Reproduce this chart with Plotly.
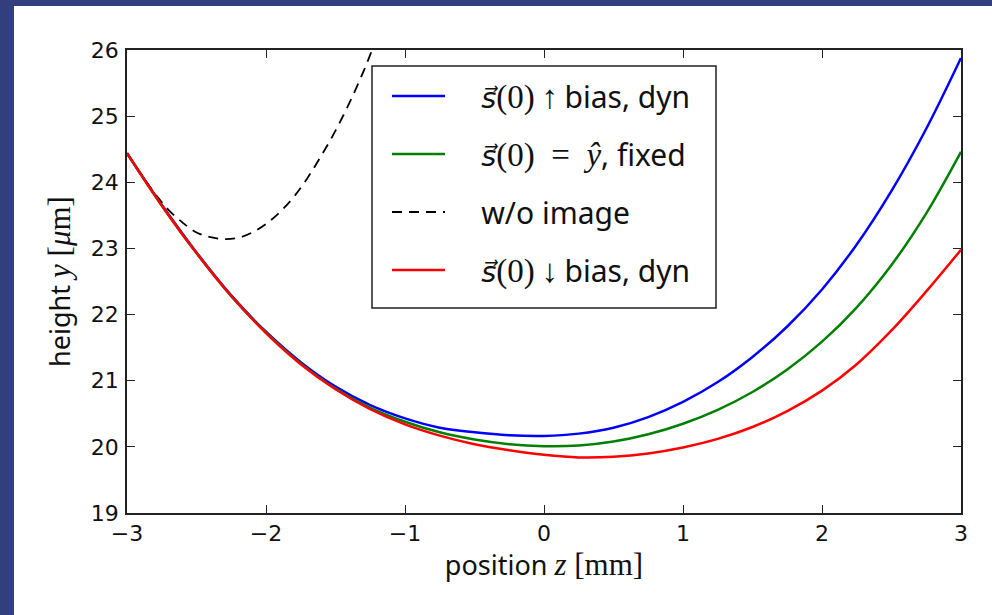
import plotly.graph_objects as go

# ---- data ----
z_vals = [-3.0, -2.75, -2.5, -2.25, -2.0, -1.75, -1.5, -1.25, -1.0, -0.75, -0.5, -0.25,
          0.0, 0.25, 0.5, 0.75, 1.0, 1.25, 1.5, 1.75, 2.0, 2.25, 2.5, 2.75, 3.0]

y_up = [24.44, 23.66, 22.94, 22.29, 21.74, 21.28, 20.91, 20.63, 20.43, 20.29, 20.22, 20.175,
        20.165, 20.20, 20.29, 20.45, 20.68, 20.98, 21.36, 21.82, 22.38, 23.06, 23.87, 24.81, 25.88]

y_fixed = [24.44, 23.65, 22.93, 22.28, 21.73, 21.26, 20.88, 20.59, 20.38, 20.22, 20.11, 20.04,
           20.01, 20.02, 20.08, 20.19, 20.35, 20.56, 20.83, 21.17, 21.59, 22.11, 22.75, 23.53, 24.46]

y_down = [24.44, 23.65, 22.93, 22.28, 21.72, 21.25, 20.87, 20.57, 20.34, 20.17, 20.04, 19.95,
          19.88, 19.84, 19.85, 19.90, 19.99, 20.12, 20.30, 20.54, 20.85, 21.25, 21.76, 22.35, 22.98]

z_noimg = [-3.0, -2.9, -2.8, -2.7, -2.6, -2.5, -2.4, -2.3, -2.2, -2.1, -2.0, -1.9, -1.8,
           -1.7, -1.6, -1.5, -1.4, -1.3, -1.2, -1.1]
y_noimg = [24.44, 24.12, 23.83, 23.58, 23.39, 23.24, 23.17, 23.14, 23.16, 23.24, 23.37, 23.55,
           23.78, 24.07, 24.41, 24.78, 25.20, 25.67, 26.20, 26.75]

x_ticks = [-3, -2, -1, 0, 1, 2, 3]
y_ticks = [19, 20, 21, 22, 23, 24, 25, 26]

SERIF = "font-family:'Liberation Serif';font-size:33px"
AXSERIF = "font-family:'Liberation Serif';font-size:31px"
VEC = "font-family:'DejaVu Sans';font-size:29px"
PAD = "\u00a0" * 4
VS = f"<span style=\"{VEC}\"><i>s⃗</i></span>"
lbl_up = f"{PAD}{VS}<span style=\"{SERIF}\">(0)\u2009↑\u2009</span>bias, dyn"
lbl_fixed = f"{PAD}{VS}<span style=\"{SERIF}\">(0)\u00a0\u00a0=\u00a0\u00a0<i>ŷ</i></span>, fixed"
lbl_noimg = f"{PAD}w/o image"
lbl_down = f"{PAD}{VS}<span style=\"{SERIF}\">(0)\u2009↓\u2009</span>bias, dyn"

fig = go.Figure()
fig.add_trace(go.Scatter(x=z_vals, y=y_up, mode="lines", name=lbl_up, legendgroup="a",
                         line=dict(color="#0000ff", width=2.5, shape="spline")))
fig.add_trace(go.Scatter(x=z_vals, y=y_fixed, mode="lines", name=lbl_fixed, legendgroup="b",
                         line=dict(color="#008000", width=2.5, shape="spline")))
fig.add_trace(go.Scatter(x=z_noimg, y=y_noimg, mode="lines", name=lbl_noimg, legendgroup="c",
                         line=dict(color="#000000", width=1.8, dash="10px,7px", shape="spline")))
fig.add_trace(go.Scatter(x=z_vals, y=y_down, mode="lines", name=lbl_down, legendgroup="d",
                         line=dict(color="#ff0000", width=2.5, shape="spline")))

L, R, T, B = 127, 31, 50, 102
W, H = 992, 615
pw, ph = W - L - R, H - T - B

def px2paper_x(px):
    return (px - L) / pw

def px2paper_y(py):
    return 1 - (py - T) / ph

# slide-background strips (left and top)
fig.add_shape(type="rect", xref="paper", yref="paper", layer="below",
              x0=px2paper_x(0), x1=px2paper_x(14), y0=px2paper_y(H), y1=px2paper_y(0),
              fillcolor="#323f7e", line=dict(width=0))
fig.add_shape(type="rect", xref="paper", yref="paper", layer="below",
              x0=px2paper_x(0), x1=px2paper_x(W), y0=px2paper_y(6), y1=px2paper_y(0),
              fillcolor="#323f7e", line=dict(width=0))
# legend frame
fig.add_shape(type="rect", xref="paper", yref="paper", layer="above",
              x0=px2paper_x(372), x1=px2paper_x(716), y0=px2paper_y(308), y1=px2paper_y(66),
              fillcolor="white", line=dict(color="#222222", width=1.5))

axis_common = dict(showgrid=False, zeroline=False, showline=True, mirror="ticks",
                   linecolor="#222222", linewidth=1.5, ticks="inside", ticklen=8,
                   tickwidth=1, tickcolor="#222222",
                   tickfont=dict(family="DejaVu Sans", size=22, color="#111111"))

fig.update_layout(
    width=W, height=H,
    margin=dict(l=L, r=R, t=T, b=B),
    paper_bgcolor="white", plot_bgcolor="white",
    showlegend=True,
    legend=dict(x=px2paper_x(387), y=px2paper_y(70), xanchor="left", yanchor="top",
                borderwidth=0, bgcolor="rgba(0,0,0,0)",
                font=dict(family="Noto Sans", size=30, color="#111111"),
                tracegroupgap=16, itemwidth=53),
    xaxis=dict(range=[-3, 3], tickvals=x_ticks,
               ticktext=[str(v).replace("-", "−") for v in x_ticks],
               ticklabelstandoff=0,
               title=dict(text=f"position <span style=\"{AXSERIF}\"><i>z</i> [mm]</span>",
                          font=dict(family="Noto Sans", size=27, color="#111111"),
                          standoff=10),
               **axis_common),
    yaxis=dict(range=[19, 26], tickvals=y_ticks,
               ticklabelstandoff=2,
               title=dict(text=f"height <span style=\"{AXSERIF}\"><i>y</i> [<i>μ</i>m]</span>",
                          font=dict(family="Noto Sans", size=27, color="#111111"),
                          standoff=12),
               **axis_common),
)

fig.write_html("out.html")
